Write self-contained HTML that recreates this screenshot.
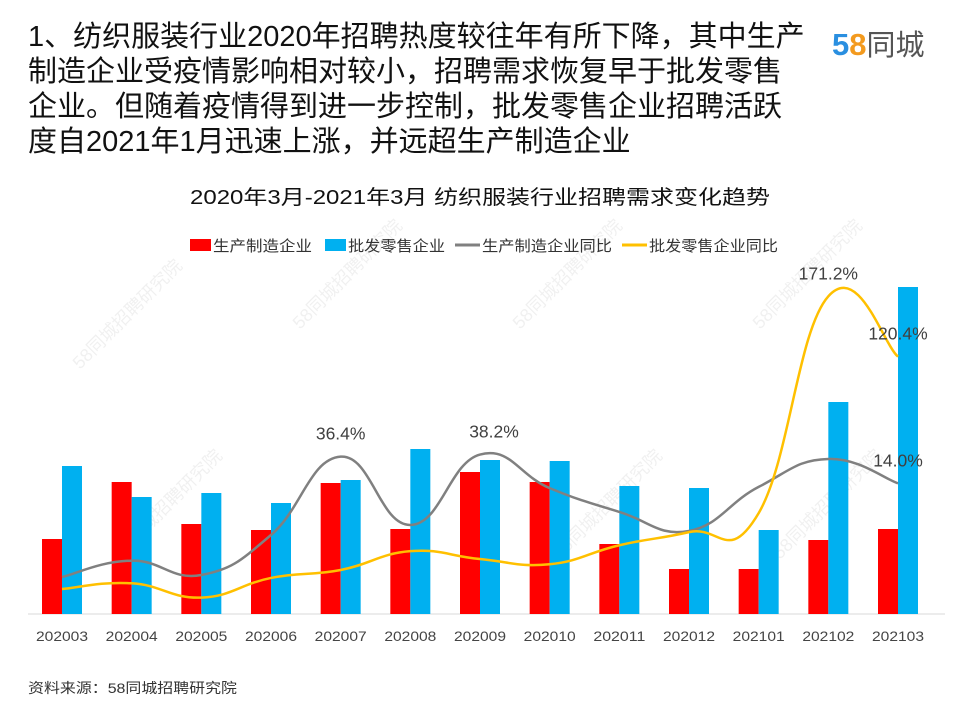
<!DOCTYPE html>
<html><head><meta charset="utf-8">
<style>
body{margin:0;background:#fff;}
#root{position:relative;width:960px;height:720px;overflow:hidden;font-family:"Liberation Sans","Noto Sans CJK SC",sans-serif;}
.hd{position:absolute;left:28px;top:20px;font-size:29px;line-height:35px;color:#111;white-space:nowrap;}
</style></head><body>
<div id="root">
<div class="hd">1、纺织服装行业2020年招聘热度较往年有所下降，其中生产<br>制造企业受疫情影响相对较小，招聘需求恢复早于批发零售<br>企业。但随着疫情得到进一步控制，批发零售企业招聘活跃<br>度自2021年1月迅速上涨，并远超生产制造企业</div>
<div style="position:absolute;left:832px;top:27px;font-size:31px;font-weight:bold;line-height:36px;"><span style="color:#2a8fe0">5</span><span style="color:#f39a1e">8</span><span style="color:#555;font-weight:normal;font-size:29px">同城</span></div>
<svg id="chart" width="960" height="720" style="position:absolute;left:0;top:0"></svg>
</div>
<script>
const categories=["202003","202004","202005","202006","202007","202008","202009","202010","202011","202012","202101","202102","202103"];
const mfgValues=[75,132,90,84,131,85,142,132,70,45,45,74,85];
const retailValues=[148,117,121,111,134,165,154,153,128,126,84,212,327];
const mfgYoY=[-64.7,-51,-63,-29.4,36.4,-21,38.2,10,-10,-26,11,34.5,14.0];
const retailYoY=[-74.8,-70,-82,-65.5,-58.8,-43,-49.6,-54,-38,-27,-11,171.2,120.4];
const labeledPoints=[["mfg",4,"36.4%"],["mfg",6,"38.2%"],["mfg",12,"14.0%"],["retail",11,"171.2%"],["retail",12,"120.4%"]];

const NS="http://www.w3.org/2000/svg";
const svg=document.getElementById('chart');
function mk(t,a,txt){const e=document.createElementNS(NS,t);for(const k in a)e.setAttribute(k,a[k]);if(txt!=null)e.textContent=txt;svg.appendChild(e);return e;}
const x0=62,step=(898-62)/12,base=614;
const xPos=i=>x0+i*step;
const yBar=v=>base-v;
const yLine=v=>500-v*1.19;

[[80,370],[300,330],[520,330],[760,330],[120,560],[560,560],[780,560]].forEach(p=>{
 const t=mk('text',{x:p[0],y:p[1],transform:`rotate(-45 ${p[0]} ${p[1]})`,'font-size':18,fill:'#000','fill-opacity':0.06},'58同城招聘研究院');
 
});

const title=mk('text',{x:190,y:204,'font-size':20,fill:'#111',textLength:580,lengthAdjust:'spacingAndGlyphs'},'2020年3月-2021年3月 纺织服装行业招聘需求变化趋势');


const leg=[["rect",190,"#ff0000","生产制造企业",213,99],["rect",325,"#00b0f0","批发零售企业",348,97],["line",455,"#808080","生产制造企业同比",482,130],["line",622,"#ffc000","批发零售企业同比",649,129]];
leg.forEach(l=>{
 let m;
 if(l[0]==="rect")m=mk('rect',{x:l[1],y:239,width:21,height:12,fill:l[2]});
 else m=mk('line',{x1:l[1],x2:l[1]+25,y1:245,y2:245,stroke:l[2],'stroke-width':3});
 
 const t=mk('text',{x:l[4],y:251,'font-size':15,fill:'#333',textLength:l[5],lengthAdjust:'spacingAndGlyphs'},l[3]);
 
});

const ax=mk('line',{x1:28,x2:945,y1:base,y2:base,stroke:'#d9d9d9','stroke-width':1});


categories.forEach((c,i)=>{
 const r=mk('rect',{x:xPos(i)-20,y:yBar(mfgValues[i]),width:20,height:mfgValues[i],fill:'#ff0000'});
 
 const b=mk('rect',{x:xPos(i),y:yBar(retailValues[i]),width:20,height:retailValues[i],fill:'#00b0f0'});
 
 const t=mk('text',{x:xPos(i)-26,y:641,'font-size':14,fill:'#444',textLength:52,lengthAdjust:'spacingAndGlyphs'},c);
 
});

function smooth(pts){
 let d=`M${pts[0][0]},${pts[0][1]}`;
 for(let i=0;i<pts.length-1;i++){
  const p0=pts[Math.max(0,i-1)],p1=pts[i],p2=pts[i+1],p3=pts[Math.min(pts.length-1,i+2)];
  const t=0.22;
  const c1=[p1[0]+(p2[0]-p0[0])*t,p1[1]+(p2[1]-p0[1])*t];
  const c2=[p2[0]-(p3[0]-p1[0])*t,p2[1]-(p3[1]-p1[1])*t];
  d+=` C${c1[0]},${c1[1]} ${c2[0]},${c2[1]} ${p2[0]},${p2[1]}`;
 }
 return d;
}
const gl=mk('path',{d:smooth(mfgYoY.map((v,i)=>[xPos(i),yLine(v)])),fill:'none',stroke:'#808080','stroke-width':2.5});

const yl=mk('path',{d:smooth(retailYoY.map((v,i)=>[xPos(i),yLine(v)])),fill:'none',stroke:'#ffc000','stroke-width':2.5});


labeledPoints.forEach(p=>{
 const v=p[0]==="mfg"?mfgYoY[p[1]]:retailYoY[p[1]];
 let x=xPos(p[1]),y=yLine(v)-17;
 if(p[1]===6)x+=14;
 const t=mk('text',{x:x,y:y,'text-anchor':'middle','font-size':17.5,fill:'#404040'},p[2]);
 
});

const src=mk('text',{x:28,y:693,'font-size':14,fill:'#333',textLength:209,lengthAdjust:'spacingAndGlyphs'},'资料来源：58同城招聘研究院');

</script>
</body></html>
